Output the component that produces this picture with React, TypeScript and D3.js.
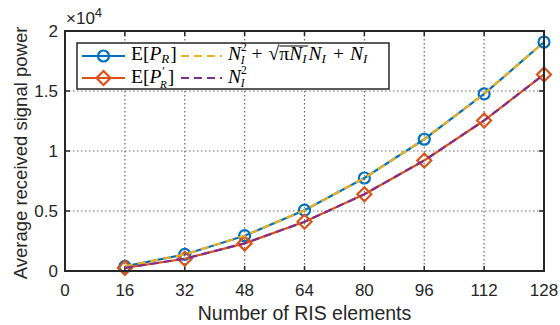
import { useRef, useEffect, useState } from "react";
import * as d3 from "d3";

// number of RIS elements
const elements = [16, 32, 48, 64, 80, 96, 112, 128];
// simulated E[P_R] and E[P'_R]
const simPR = [390, 1380, 2940, 5070, 7750, 10980, 14760, 19080];
const simPRp = [260, 1020, 2300, 4100, 6400, 9210, 12540, 16380];
// analytical curves
const theoryPR = [385, 1377, 2941, 5067, 7748, 10979, 14757, 19079];
const theoryPRp = [256, 1024, 2304, 4096, 6400, 9216, 12544, 16384];

const xTicks = [0, 16, 32, 48, 64, 80, 96, 112, 128];
const yTicks = [0, 5000, 10000, 15000, 20000];
const yTickLabels = ["0", "0.5", "1", "1.5", "2"];

const W = 560;
const H = 325;
const margin = { top: 31, right: 16, bottom: 54, left: 65 };

const BLUE = "#0072BD";
const ORANGE = "#D95319";
const YELLOW = "#EDB120";
const PURPLE = "#7E2F8E";
const AX = "#262626";
const SANS = "'Liberation Sans', Arial, Helvetica, sans-serif";
const SERIF = "'Liberation Serif', 'Times New Roman', serif";

const diamond = (cx: number, cy: number, r: number) =>
  `M${cx},${cy - r}L${cx + r},${cy}L${cx},${cy + r}L${cx - r},${cy}Z`;

export default function App() {
  const innerW = W - margin.left - margin.right;
  const innerH = H - margin.top - margin.bottom;
  const x = d3.scaleLinear().domain([0, 128]).range([margin.left, margin.left + innerW]);
  const y = d3.scaleLinear().domain([0, 20000]).range([margin.top + innerH, margin.top]);

  const line = (vals: number[]) =>
    d3
      .line<number>()
      .x((_, i) => x(elements[i]))
      .y((d) => y(d))(vals) as string;

  const sqrtRef = useRef<SVGTSpanElement>(null);
  const [ov, setOv] = useState<{ x1: number; x2: number; y: number } | null>(null);
  useEffect(() => {
    if (!sqrtRef.current) return;
    const b = sqrtRef.current.getBBox();
    setOv({ x1: b.x, x2: b.x + b.width + 1, y: b.y + 3 });
  }, []);

  const left = margin.left;
  const right = margin.left + innerW;
  const top = margin.top;
  const bottom = margin.top + innerH;

  // legend geometry
  const lgX = 77, lgY = 43, lgW = 312, lgH = 46;
  const row1 = 56, row2 = 78;
  const base1 = 60, base2 = 83;

  return (
    <svg
      width={W}
      height={H}
      style={{ position: "absolute", left: 0, top: 0, background: "#fff" }}
    >
      {/* grid */}
      <g stroke="#444" strokeWidth={1.2} strokeDasharray="1.5,2.5" opacity={0.8}>
        {xTicks.slice(1, -1).map((t) => (
          <line key={"gx" + t} x1={x(t)} x2={x(t)} y1={top} y2={bottom} />
        ))}
        {yTicks.slice(1, -1).map((t) => (
          <line key={"gy" + t} x1={left} x2={right} y1={y(t)} y2={y(t)} />
        ))}
      </g>

      {/* ticks */}
      <g stroke={AX} strokeWidth={1.5}>
        {xTicks.map((t) => (
          <g key={"tx" + t}>
            <line x1={x(t)} x2={x(t)} y1={bottom} y2={bottom - 5} />
            <line x1={x(t)} x2={x(t)} y1={top} y2={top + 5} />
          </g>
        ))}
        {yTicks.map((t) => (
          <g key={"ty" + t}>
            <line x1={left} x2={left + 5} y1={y(t)} y2={y(t)} />
            <line x1={right} x2={right - 5} y1={y(t)} y2={y(t)} />
          </g>
        ))}
      </g>

      {/* series */}
      <path d={line(simPR)} fill="none" stroke={BLUE} strokeWidth={2.2} />
      {simPR.map((v, i) => (
        <circle key={"c" + i} cx={x(elements[i])} cy={y(v)} r={5.5} fill="none" stroke={BLUE} strokeWidth={2.2} />
      ))}
      <path d={line(simPRp)} fill="none" stroke={ORANGE} strokeWidth={2.2} />
      {simPRp.map((v, i) => (
        <path key={"d" + i} d={diamond(x(elements[i]), y(v), 7)} fill="none" stroke={ORANGE} strokeWidth={2.2} />
      ))}
      <path d={line(theoryPR)} fill="none" stroke={YELLOW} strokeWidth={2.2} strokeDasharray="8,5" />
      <path d={line(theoryPRp)} fill="none" stroke={PURPLE} strokeWidth={2.2} strokeDasharray="8,5" />

      {/* axes box */}
      <rect x={left} y={top} width={innerW} height={innerH} fill="none" stroke={AX} strokeWidth={2} />

      {/* tick labels */}
      <g fontFamily={SANS} fontSize={17} fill={AX}>
        {xTicks.map((t) => (
          <text key={"lx" + t} x={x(t)} y={bottom + 25} textAnchor="middle">
            {t}
          </text>
        ))}
        {yTicks.map((t, i) => (
          <text key={"ly" + t} x={left - 7} y={y(t) + 6} textAnchor="end">
            {yTickLabels[i]}
          </text>
        ))}
      </g>
      <text x={left + 1} y={top - 7} fontFamily={SANS} fontSize={17} fill={AX}>
        ×10<tspan fontSize={13} dy={-7}>4</tspan>
      </text>

      {/* axis titles */}
      <text
        x={(left + right) / 2}
        y={H - 5}
        textAnchor="middle"
        fontFamily={SANS}
        fontSize={19.5}
        fill={AX}
      >
        Number of RIS elements
      </text>
      <text
        transform={`translate(27,${(top + bottom) / 2 + 2}) rotate(-90)`}
        textAnchor="middle"
        fontFamily={SANS}
        fontSize={18.5}
        fill={AX}
      >
        Average received signal power
      </text>

      {/* legend */}
      <rect x={lgX} y={lgY} width={lgW} height={lgH} fill="#fff" stroke={AX} strokeWidth={1.5} />
      <line x1={82} x2={125} y1={row1} y2={row1} stroke={BLUE} strokeWidth={2.2} />
      <circle cx={103.5} cy={row1} r={5.5} fill="none" stroke={BLUE} strokeWidth={2.2} />
      <line x1={82} x2={125} y1={row2} y2={row2} stroke={ORANGE} strokeWidth={2.2} />
      <path d={diamond(103.5, row2, 7)} fill="none" stroke={ORANGE} strokeWidth={2.2} />
      <line x1={181} x2={222} y1={row1} y2={row1} stroke={YELLOW} strokeWidth={2.2} strokeDasharray="8,5" />
      <line x1={181} x2={222} y1={row2} y2={row2} stroke={PURPLE} strokeWidth={2.2} strokeDasharray="8,5" />

      <g fontFamily={SERIF} fontSize={19.5} fill="#000">
        <text x={131} y={base1}>
          E[<tspan fontStyle="italic">P</tspan>
          <tspan fontStyle="italic" fontSize={13} dy={3}>R</tspan>
          <tspan dy={-3} dx={1}>]</tspan>
        </text>
        <text x={131} y={base2}>
          E[<tspan fontStyle="italic">P</tspan>
          <tspan fontSize={12} dx={1} dy={-8}>′</tspan>
          <tspan fontStyle="italic" fontSize={11} dx={-5} dy={12.5}>R</tspan>
          <tspan dy={-4.5} dx={1}>]</tspan>
        </text>
        <text x={228} y={base1}>
          <tspan fontStyle="italic">N</tspan>
          <tspan fontSize={11.5} dy={-9}>2</tspan>
          <tspan fontStyle="italic" fontSize={11.5} dx={-6} dy={13}>I</tspan>
          <tspan dy={-4} dx={7}>+</tspan>
          <tspan dx={6}>√</tspan>
          <tspan ref={sqrtRef}>
            π<tspan fontStyle="italic">N</tspan>
            <tspan fontStyle="italic" fontSize={13} dy={3}>I</tspan>
          </tspan>
          <tspan fontStyle="italic" dy={-3} dx={2}>N</tspan>
          <tspan fontStyle="italic" fontSize={13} dy={3}>I</tspan>
          <tspan dy={-3} dx={7}>+</tspan>
          <tspan dx={6} fontStyle="italic">N</tspan>
          <tspan fontStyle="italic" fontSize={13} dy={3}>I</tspan>
        </text>
        <text x={228} y={base2}>
          <tspan fontStyle="italic">N</tspan>
          <tspan fontSize={11.5} dy={-9}>2</tspan>
          <tspan fontStyle="italic" fontSize={11.5} dx={-6} dy={13}>I</tspan>
        </text>
      </g>
      {ov && <line x1={ov.x1} x2={ov.x2} y1={ov.y} y2={ov.y} stroke="#000" strokeWidth={1} />}
    </svg>
  );
}
